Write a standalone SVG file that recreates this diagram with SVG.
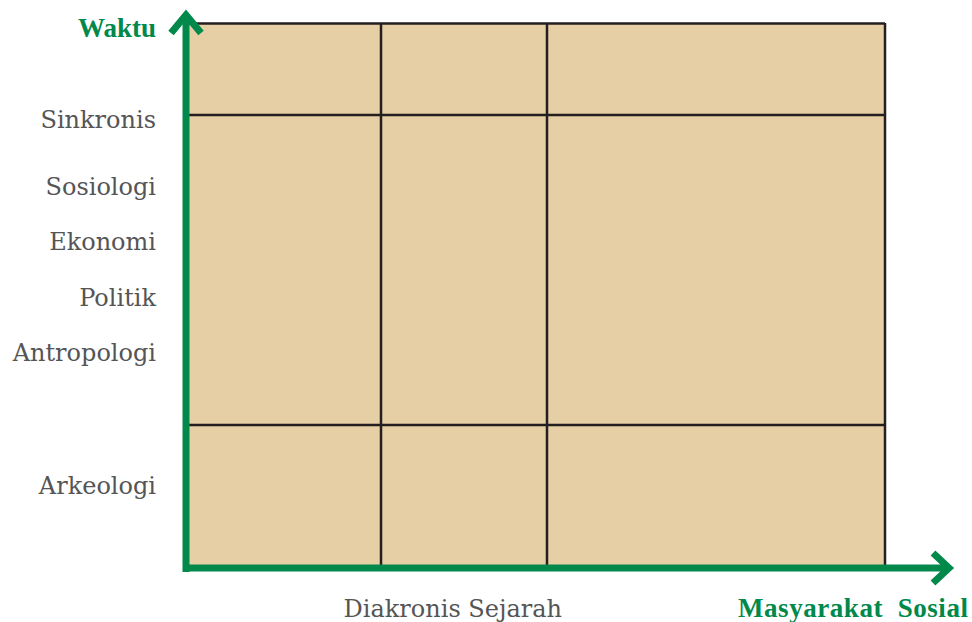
<svg xmlns="http://www.w3.org/2000/svg" width="972" height="622" viewBox="0 0 972 622">
<style>
.lbl{font-family:"DejaVu Serif","Liberation Serif",serif;font-size:24px;fill:#555555;text-anchor:end}
.ax{font-family:"Liberation Serif","DejaVu Serif",serif;font-size:27px;font-weight:bold;fill:#00894b;text-anchor:end}
.grid{stroke:#231f20;stroke-width:2.5;fill:none}
.axis{stroke:#00894b;stroke-width:7;fill:none}
</style>
<g id="grid">
<rect x="186" y="23" width="699" height="545" fill="#e7cfa5"/>
<line class="grid" x1="186" y1="23.5" x2="885" y2="23.5"/>
<line class="grid" x1="186" y1="115" x2="885" y2="115"/>
<line class="grid" x1="186" y1="425" x2="885" y2="425"/>
<line class="grid" x1="381" y1="23" x2="381" y2="569"/>
<line class="grid" x1="547" y1="23" x2="547" y2="569"/>
<line class="grid" x1="885" y1="23" x2="885" y2="569"/>
</g>
<g id="connectors">
<line class="axis" x1="186" y1="14" x2="186" y2="572"/>
<line class="axis" x1="183" y1="568" x2="950" y2="568"/>
<polyline class="axis" points="171,33 186,15 201,33"/>
<polyline class="axis" points="933,553 949,568 933,583"/>
</g>
<g id="labels">
<text class="ax" x="156" y="37">Waktu</text>
<text class="lbl" x="156" y="128">Sinkronis</text>
<text class="lbl" x="156" y="195">Sosiologi</text>
<text class="lbl" x="156" y="250">Ekonomi</text>
<text class="lbl" x="156" y="306">Politik</text>
<text class="lbl" x="156" y="361">Antropologi</text>
<text class="lbl" x="156" y="494">Arkeologi</text>
<text class="lbl" x="562" y="617">Diakronis Sejarah</text>
<text class="ax" x="968" y="617" xml:space="preserve" textLength="230" lengthAdjust="spacing">Masyarakat  Sosial</text>
</g>
</svg>
